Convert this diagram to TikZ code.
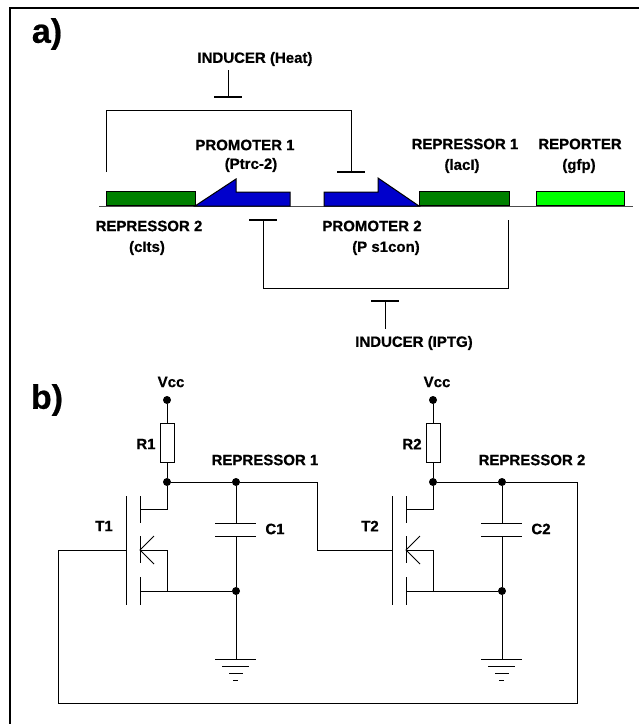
\documentclass[tikz,border=0pt]{standalone}
\usepackage{fontspec}
\setmainfont[BoldFeatures={FakeBold=0.6}]{Liberation Sans}
\definecolor{genedark}{RGB}{0,128,0}
\definecolor{genelight}{RGB}{0,255,0}
\definecolor{promoblue}{RGB}{0,0,204}
\tikzset{
  wire/.style={draw=black, line width=1pt},
  blocker/.style={draw=black, line width=1.1pt},
  gene/.style={draw=black, line width=1pt, minimum height=14pt, inner sep=0pt, anchor=south west},
  label/.style={font=\bfseries\fontsize{15}{15}\selectfont, inner sep=0pt},
  panel/.style={font=\bfseries\fontsize{34}{34}\selectfont, inner sep=0pt},
  junction/.style={circle, fill=black, inner sep=0pt, minimum size=8pt},
  resistor/.style={draw=black, line width=1pt, fill=white, minimum width=14pt, minimum height=39pt, inner sep=0pt}
}
\begin{document}
\begin{tikzpicture}[x=1pt, y=-1pt]
  \useasboundingbox (0,0) rectangle (639,724);
  \draw[line width=1.2pt] (10,724) -- (10,8) -- (639,8);
  \node[panel] (panelA) at (47,34) {a)};
  \node[panel] (panelB) at (47,400) {b)};

  % genes
  \coordinate (dnaL) at (99,206);
  \coordinate (dnaR) at (633,206);
  \draw[line width=1pt, draw=black!70] (dnaL) -- (dnaR);
  \node[gene, fill=genedark, minimum width=89pt] (rep2) at (106,206) {};
  \node[gene, fill=genedark, minimum width=90pt] (rep1) at (419,206) {};
  \node[gene, fill=genelight, minimum width=88pt] (reporter) at (536,206) {};
  \draw[line width=1pt, fill=promoblue] (195,206) -- (236,179) -- (236,192) -- (290,192) -- (290,206) -- cycle;
  \draw[line width=1pt, fill=promoblue] (324,206) -- (324,192) -- (378,192) -- (378,178) -- (419,206) -- cycle;

  % repression brackets
  \coordinate (rep2out) at (106,172);
  \coordinate (p2bar) at (351,172);
  \coordinate (p2barL) at (337,172);
  \coordinate (p2barR) at (365,172);
  \draw[wire] (rep2out) -- (106,110) -- (351,110) -- (p2bar);
  \draw[blocker] (p2barL) -- (p2barR);
  \coordinate (rep1out) at (508,220);
  \coordinate (p1bar) at (263,220);
  \coordinate (p1barL) at (249,220);
  \coordinate (p1barR) at (277,220);
  \draw[wire] (rep1out) -- (508,288) -- (263,288) -- (p1bar);
  \draw[blocker] (p1barL) -- (p1barR);

  % inducers
  \node[label] (heat) at (255,59) {INDUCER (Heat)};
  \coordinate (heatTop) at (228.5,70);
  \coordinate (heatBot) at (228.5,97);
  \draw[wire] (heatTop) -- (heatBot);
  \draw[blocker] (214,97) -- (242,97);
  \node[label] (iptg) at (414,343) {INDUCER (IPTG)};
  \coordinate (iptgTop) at (385,301);
  \coordinate (iptgBot) at (385,329);
  \draw[wire] (iptgTop) -- (iptgBot);
  \draw[blocker] (371,301) -- (399,301);

  % gene labels
  \node[label] (promo1) at (245,145) {PROMOTER 1};
  \node[label] (promo1b) at (251,165) {(Ptrc-2)};
  \node[label] (promo2) at (372,226) {PROMOTER 2};
  \node[label] (promo2b) at (386,248) {(P s1con)};
  \node[label] (repA) at (465,144) {REPRESSOR 1};
  \node[label] (repAb) at (462,166) {(lacI)};
  \node[label] (repB) at (149,226) {REPRESSOR 2};
  \node[label] (repBb) at (147,248) {(cIts)};
  \node[label] (rept) at (580,144) {REPORTER};
  \node[label] (reptb) at (579,166) {(gfp)};

  % the two stages of the circuit
  \foreach \n/\dx in {1/0, 2/266} {
    \begin{scope}[xshift=\dx pt]
      \node[label] (vcc\n) at (171,382) {Vcc};
      \node[junction] (top\n) at (167,400) {};
      \node[resistor] (R\n) at (167,442.5) {};
      \node[junction] (drain\n) at (167,482) {};
      \node[junction] (out\n) at (236,482) {};
      \node[junction] (src\n) at (236,591) {};
      \node[label] (labR\n) at (146,444) {R\n};
      \node[label] (labT\n) at (104,526) {T\n};
      \node[label] (labC\n) at (275,529) {C\n};
      \draw[wire] (top\n) -- (R\n);
      \draw[wire] (R\n) -- (drain\n);
      \draw[wire] (drain\n) -- (out\n);
      % capacitor
      \coordinate (capA\n) at (236,523);
      \coordinate (capB\n) at (236,536);
      \draw[wire] (out\n) -- (capA\n);
      \draw[wire] (capB\n) -- (src\n);
      \draw[wire] (215,523) -- (256,523);
      \draw[wire] (215,536) -- (256,536);
      % ground
      \coordinate (gnd\n) at (236,659);
      \draw[wire] (src\n) -- (gnd\n);
      \draw[wire] (215,659) -- (256,659);
      \draw[wire] (222,666) -- (249,666);
      \draw[wire] (229,673) -- (243,673);
      \draw[wire] (233,680) -- (238,680);
      % transistor
      \coordinate (gate\n) at (126,550);
      \draw[wire] (126,496) -- (126,605);
      \draw[wire] (140,496) -- (140,523);
      \draw[wire] (140,536) -- (140,563);
      \draw[wire] (140,577) -- (140,605);
      \draw[wire] (140,509) -- (167,509) -- (drain\n);
      \draw[wire] (140,591) -- (src\n);
      \draw[wire] (140,550) -- (167,550) -- (167,591);
      \draw[wire] (154,536) -- (140,550) -- (154,564);
    \end{scope}
  }
  \node[label] (outA) at (265,460) {REPRESSOR 1};
  \node[label] (outB) at (532,460) {REPRESSOR 2};

  % feedback wires
  \draw[wire] (out1) -- (317,482) -- (317,550) -- (gate2);
  \draw[wire] (out2) -- (577,482) -- (577,703) -- (58,703) -- (58,550) -- (gate1);
\end{tikzpicture}
\end{document}
